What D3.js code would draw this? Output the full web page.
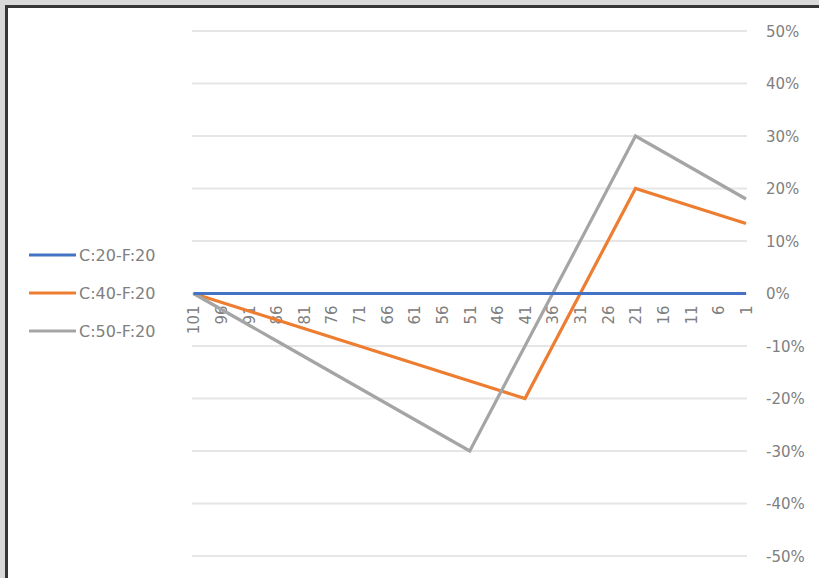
<!DOCTYPE html>
<html><head><meta charset="utf-8">
<script src="https://cdn.jsdelivr.net/npm/d3@7"></script>
<style>body{margin:0;background:#d9d9d9;}svg{display:block;}</style>
</head><body>
<script>
const categories = ["101","96","91","86","81","76","71","66","61","56","51","46","41","36","31","26","21","16","11","6","1"];
const seriesNames = ["C:20-F:20","C:40-F:20","C:50-F:20"];
const seriesColors = ["#4472c4","#ed7d31","#a5a5a5"];
const s1 = [0,0,0,0,0,0,0,0,0,0,0,0,0,0,0,0,0,0,0,0,0];
const s2 = [0,-1.67,-3.33,-5,-6.67,-8.33,-10,-11.67,-13.33,-15,-16.67,-18.33,-20,-10,0,10,20,18.33,16.67,15,13.33];
const s3 = [0,-3,-6,-9,-12,-15,-18,-21,-24,-27,-30,-20,-10,0,10,20,30,27,24,21,18];
const yTicks = [50,40,30,20,10,0,-10,-20,-30,-40,-50];

const W=819,H=578;
const svg=d3.select("body").append("svg").attr("width",W).attr("height",H);
svg.append("rect").attr("x",0).attr("y",0).attr("width",W).attr("height",H).attr("fill","#d9d9d9");
svg.append("rect").attr("x",6.5).attr("y",6.5).attr("width",W+20).attr("height",H+20)
  .attr("fill","#fff").attr("stroke","#363636").attr("stroke-width",3);

const x=d3.scalePoint().domain(categories).range([193.5,746]);
const y=d3.scaleLinear().domain([-50,50]).range([556,31]);
const font="DejaVu Sans, sans-serif";
const txt="#808080";

// gridlines
svg.append("g").selectAll("line").data(yTicks).join("line")
  .attr("x1",192).attr("x2",747).attr("y1",d=>y(d)).attr("y2",d=>y(d))
  .attr("stroke","#e6e6e6").attr("stroke-width",2);

// right axis labels
const yAxis=d3.axisRight(y).tickValues(yTicks).tickSize(0).tickPadding(0).tickFormat(d=>d+"%");
const ya=svg.append("g").attr("transform","translate(766,0)").call(yAxis);
ya.select(".domain").remove();
ya.selectAll("text").attr("font-family",font).attr("font-size",15).attr("fill",txt).attr("x",0).attr("dy","0.35em");

// x axis labels
const xAxis=d3.axisBottom(x).tickSize(0).tickPadding(0);
const xa=svg.append("g").attr("transform",`translate(0,${y(0)})`).call(xAxis);
xa.select(".domain").attr("stroke","#d9d9d9").attr("stroke-width",1.5);
xa.selectAll("text").attr("font-family",font).attr("font-size",15).attr("fill",txt)
  .attr("text-anchor","end").attr("transform","translate(0,12) rotate(-90)")
  .attr("x",0).attr("y",0).attr("dy","0.35em");

// lines
const data=[s1,s2,s3];
const line=d3.line().x((d,i)=>x(categories[i])).y(d=>y(d));
[1,2,0].forEach(k=>{
  svg.append("path").datum(data[k]).attr("d",line).attr("fill","none")
    .attr("stroke",seriesColors[k]).attr("stroke-width",3.2).attr("stroke-linejoin","miter");
});

// legend
const ly=[255,293,331];
seriesNames.forEach((n,i)=>{
  svg.append("line").attr("x1",29).attr("x2",76).attr("y1",ly[i]).attr("y2",ly[i])
    .attr("stroke",seriesColors[i]).attr("stroke-width",3.2);
  svg.append("text").attr("x",79).attr("y",ly[i]).attr("dy","0.35em").text(n)
    .attr("font-family",font).attr("font-size",16).attr("fill",txt);
});
</script>
</body></html>
